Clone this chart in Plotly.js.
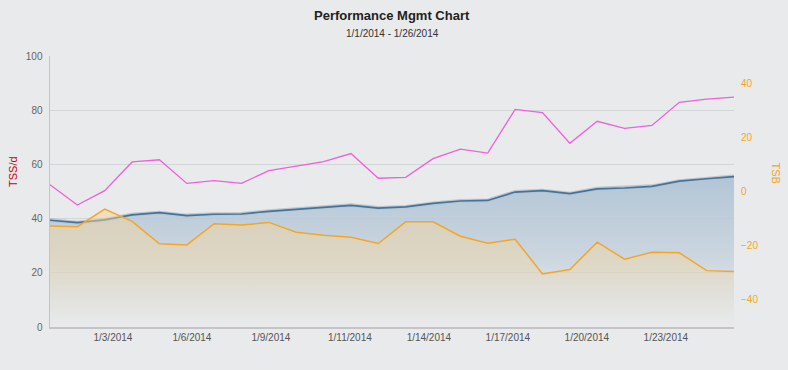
<!DOCTYPE html>
<html>
<head>
<meta charset="utf-8">
<script src="https://cdn.plot.ly/plotly-3.0.1.min.js"></script>
<style>html,body{margin:0;padding:0;background:#e9eaec;}#chart{width:788px;height:370px;}</style>
</head>
<body>
<div id="chart"></div>
<script>
// ---- data ----
const dates = ['2014-01-01','2014-01-02','2014-01-03','2014-01-04','2014-01-05','2014-01-06','2014-01-07','2014-01-08','2014-01-09','2014-01-10','2014-01-11','2014-01-12','2014-01-13','2014-01-14','2014-01-15','2014-01-16','2014-01-17','2014-01-18','2014-01-19','2014-01-20','2014-01-21','2014-01-22','2014-01-23','2014-01-24','2014-01-25','2014-01-26'];
const atl = [52.5,45.0,50.3,60.9,61.7,53.0,54.0,53.0,57.7,59.4,61.0,64.0,54.9,55.2,62.1,65.6,64.2,80.3,79.1,67.8,75.9,73.3,74.4,82.9,84.1,84.8];
const ctl = [39.4,38.5,39.5,41.4,42.2,41.1,41.6,41.7,42.7,43.4,44.0,44.9,43.9,44.3,45.6,46.5,46.7,49.8,50.3,49.2,51.0,51.3,51.9,53.8,54.7,55.5];
const tsb = [-12.7,-13.0,-6.5,-11.0,-19.3,-19.7,-11.9,-12.4,-11.4,-15.0,-16.1,-16.9,-19.2,-11.2,-11.2,-16.5,-19.1,-17.6,-30.4,-28.8,-18.7,-25.0,-22.4,-22.6,-29.2,-29.5];
const xTickLabels = ['1/3/2014','1/6/2014','1/9/2014','1/11/2014','1/14/2014','1/17/2014','1/20/2014','1/23/2014'];
const leftRange = [0, 100];
const rightRange = [-50, 50];

// ---- layout helpers ----
const DAY = 86400000;
const t0 = Date.UTC(2014, 0, 1);
const xTickVals = xTickLabels.map((_, i) => t0 + (2.3 + i * 2.887) * DAY);
const tsbBase = tsb.map(() => rightRange[0]);

const traces = [
  {
    x: dates, y: ctl, type: 'scatter', mode: 'lines', yaxis: 'y',
    line: {color: 'rgba(60,90,120,0.25)', width: 4}, showlegend: false, hoverinfo: 'skip'
  },
  {
    x: dates, y: ctl, type: 'scatter', mode: 'lines', name: 'CTL', yaxis: 'y',
    line: {color: '#44739b', width: 1.7},
    fill: 'tozeroy',
    fillgradient: {type: 'vertical', start: 0, stop: 56,
      colorscale: [[0, 'rgba(200,210,220,0.0)'], [0.5, 'rgba(190,205,218,0.75)'], [1, 'rgba(175,195,212,0.95)']]},
    hoverinfo: 'x+y'
  },
  {
    x: dates, y: tsbBase, type: 'scatter', mode: 'lines', yaxis: 'y2',
    line: {width: 0, color: 'rgba(0,0,0,0)'}, showlegend: false, hoverinfo: 'skip'
  },
  {
    x: dates, y: tsb, type: 'scatter', mode: 'lines', name: 'TSB', yaxis: 'y2',
    line: {color: '#f5a623', width: 1.5},
    fill: 'tonexty',
    fillgradient: {type: 'vertical', start: -50, stop: -6,
      colorscale: [[0, 'rgba(235,225,200,0.0)'], [0.5, 'rgba(240,215,165,0.45)'], [1, 'rgba(245,212,155,0.5)']]},
    hoverinfo: 'x+y'
  },
  {
    x: dates, y: atl, type: 'scatter', mode: 'lines', name: 'ATL', yaxis: 'y',
    line: {color: '#f060d8', width: 1.3},
    hoverinfo: 'x+y'
  }
];

const layout = {
  width: 788, height: 370,
  paper_bgcolor: '#e9eaec', plot_bgcolor: '#e9eaec',
  margin: {l: 50, r: 54, t: 56, b: 43},
  showlegend: false,
  font: {family: 'Liberation Sans, Arial, sans-serif', color: '#555'},
  xaxis: {
    type: 'date', range: [dates[0], dates[dates.length - 1]],
    tickmode: 'array', tickvals: xTickVals, ticktext: xTickLabels,
    showgrid: false, zeroline: false,
    showline: true, linecolor: '#c4c4c6', linewidth: 1.5,
    ticks: '', tickfont: {size: 10, color: '#555'}
  },
  yaxis: {
    range: leftRange, dtick: 20, tick0: 0,
    showgrid: true, gridcolor: '#d4d5d8', gridwidth: 1, zeroline: false,
    showline: true, linecolor: '#c4c4c6', linewidth: 1.5,
    ticks: '', ticklabelstandoff: 4, tickfont: {size: 10, color: '#666'}
  },
  yaxis2: {
    overlaying: 'y', side: 'right', range: rightRange, dtick: 20, tick0: 0,
    showgrid: false, zeroline: false, showline: false,
    ticks: '', ticklabelstandoff: 6, tickfont: {size: 10, color: '#f5a623'},
    tickvals: [-40, -20, 0, 20, 40]
  },
  annotations: [
    {text: 'Performance Mgmt Chart', xref: 'paper', yref: 'paper', x: 0.5, y: 1, yshift: 41,
     xanchor: 'center', yanchor: 'middle', showarrow: false,
     font: {size: 13, color: '#222', family: 'Liberation Sans, Arial, sans-serif', weight: 'bold'}},
    {text: '1/1/2014 - 1/26/2014', xref: 'paper', yref: 'paper', x: 0.5, y: 1, yshift: 23,
     xanchor: 'center', yanchor: 'middle', showarrow: false,
     font: {size: 10, color: '#333'}},
    {text: 'TSS/d', xref: 'paper', yref: 'paper', x: 0, xshift: -37, y: 0.572,
     xanchor: 'center', yanchor: 'middle', showarrow: false, textangle: -90,
     font: {size: 11, color: '#cc0000'}},
    {text: 'TSB', xref: 'paper', yref: 'paper', x: 1, xshift: 42, y: 0.57,
     xanchor: 'center', yanchor: 'middle', showarrow: false, textangle: 90,
     font: {size: 11, color: '#f5a623'}}
  ]
};

Plotly.newPlot('chart', traces, layout, {displayModeBar: false, staticPlot: true});
</script>
</body>
</html>
